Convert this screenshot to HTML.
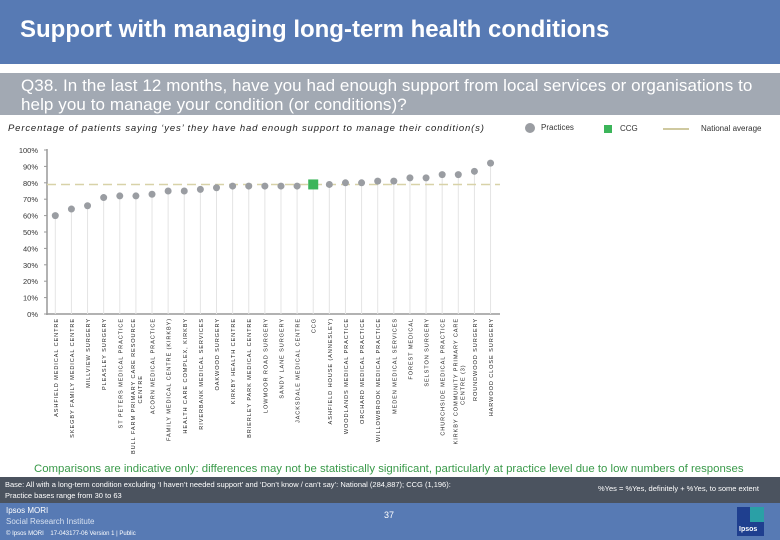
<!DOCTYPE html>
<html><head><meta charset="utf-8"><style>
body{margin:0;width:780px;height:540px;overflow:hidden;background:#fff;font-family:"Liberation Sans",sans-serif;position:relative}
.abs{position:absolute}
</style></head><body>
<div class="abs" style="left:0;top:0;width:780px;height:64px;background:#577ab4"></div>
<div class="abs" style="left:20px;top:16px;color:#fff;font-size:24px;font-weight:bold">Support with managing long-term health conditions</div>
<div class="abs" style="left:0;top:73px;width:780px;height:42px;background:#a2a9b3"></div>
<div class="abs" style="left:21px;top:76px;color:#fff;font-size:17px;line-height:19px;letter-spacing:0.08px;white-space:nowrap">Q38. In the last 12 months, have you had enough support from local services or organisations to<br>help you to manage your condition (or conditions)?</div>
<div class="abs" style="left:8px;top:123px;font-size:9.5px;font-style:italic;color:#222;letter-spacing:0.85px">Percentage of patients saying ‘yes’ they have had enough support to manage their condition(s)</div>
<div class="abs" style="left:525px;top:123px;font-size:8px;color:#333"><span style="display:inline-block;width:10px;height:10px;border-radius:50%;background:#9a9da2;vertical-align:middle;margin-right:6px"></span>Practices</div>
<div class="abs" style="left:604px;top:124px;font-size:8px;color:#333"><span style="display:inline-block;width:8px;height:8px;background:#3cb55a;vertical-align:middle;margin-right:8px"></span>CCG</div>
<div class="abs" style="left:663px;top:124px;font-size:8px;color:#333"><span style="display:inline-block;width:26px;height:2px;background:#cfc9a0;vertical-align:middle;margin-right:12px"></span>National average</div>

<svg class="abs" style="left:0;top:0" width="780" height="470">
<g id="g"></g>
</svg>

<div class="abs" style="left:34px;top:463px;font-size:11.4px;color:#3a9a4a">Comparisons are indicative only: differences may not be statistically significant, particularly at practice level due to low numbers of responses</div>
<div class="abs" style="left:0;top:477px;width:780px;height:26px;background:#4b535f"></div>
<div class="abs" style="left:5px;top:479px;font-size:7.5px;line-height:11px;color:#fff">Base: All with a long-term condition excluding ‘I haven’t needed support’ and ‘Don’t know / can’t say’: National (284,887); CCG (1,196):<br>Practice bases range from 30 to 63</div>
<div class="abs" style="left:598px;top:484px;font-size:7.5px;color:#fff">%Yes = %Yes, definitely + %Yes, to some extent</div>
<div class="abs" style="left:0;top:503px;width:780px;height:37px;background:#577ab4"></div>
<div class="abs" style="left:6px;top:505px;font-size:8px;line-height:11px;color:#fff">Ipsos MORI<br><span style="color:#d6e0f0">Social Research Institute</span><br><span style="font-size:6px">© Ipsos MORI &nbsp;&nbsp; 17-043177-06 Version 1 | Public</span></div>
<div class="abs" style="left:384px;top:510px;font-size:9px;color:#fff">37</div>
<div class="abs" style="left:737px;top:507px;width:27px;height:29px;background:#1f3f8f"><div style="position:absolute;left:13px;top:0;width:14px;height:15px;background:#2aa0a6"></div><div style="position:absolute;left:2px;top:19px;font-size:7px;color:#fff;font-weight:bold">Ipsos</div></div>

<script>
const categories=["ASHFIELD MEDICAL CENTRE","SKEGBY FAMILY MEDICAL CENTRE","MILLVIEW SURGERY","PLEASLEY SURGERY","ST PETERS MEDICAL PRACTICE","BULL FARM PRIMARY CARE RESOURCE|CENTRE","ACORN MEDICAL PRACTICE","FAMILY MEDICAL CENTRE (KIRKBY)","HEALTH CARE COMPLEX, KIRKBY","RIVERBANK MEDICAL SERVICES","OAKWOOD SURGERY","KIRKBY HEALTH CENTRE","BRIERLEY PARK MEDICAL CENTRE","LOWMOOR ROAD SURGERY","SANDY LANE SURGERY","JACKSDALE MEDICAL CENTRE","CCG","ASHFIELD HOUSE (ANNESLEY)","WOODLANDS MEDICAL PRACTICE","ORCHARD MEDICAL PRACTICE","WILLOWBROOK MEDICAL PRACTICE","MEDEN MEDICAL SERVICES","FOREST MEDICAL","SELSTON SURGERY","CHURCHSIDE MEDICAL PRACTICE","KIRKBY COMMUNITY PRIMARY CARE|CENTRE (3)","ROUNDWOOD SURGERY","HARWOOD CLOSE SURGERY"];
const values=[60,64,66,71,72,72,73,75,75,76,77,78,78,78,78,78,79,79,80,80,81,81,83,83,85,85,87,92];
const nationalAverage=79;
const yTicks=[0,10,20,30,40,50,60,70,80,90,100];
const tickLabels=["0%","10%","20%","30%","40%","50%","60%","70%","80%","90%","100%"];
const ccgName="CCG";

const NS="http://www.w3.org/2000/svg";
const g=document.getElementById('g');
const y=v=>314-v*1.64;
const x=i=>55.3+i*16.12;
function mk(t,a){const e=document.createElementNS(NS,t);for(const k in a)e.setAttribute(k,a[k]);g.appendChild(e);return e;}
yTicks.forEach((t,i)=>{
  const tx=mk('text',{x:38,y:y(t)+3,'text-anchor':'end','font-size':7.5,fill:'#333'});
  tx.textContent=tickLabels[i];
  
  
  const tk=mk('line',{x1:44,x2:47,y1:y(t),y2:y(t),stroke:'#999'});
  
  
});
const ya=mk('line',{x1:47,x2:47,y1:149,y2:315,stroke:'#999','stroke-width':1.5});


const xa=mk('line',{x1:46,x2:500,y1:314,y2:314,stroke:'#999','stroke-width':1.5});


values.forEach((v,i)=>{
  const dl=mk('line',{x1:x(i),x2:x(i),y1:y(v),y2:314,stroke:'#e4e4e4','stroke-width':1});
  
  
});
const nl=mk('line',{x1:47,x2:500,y1:y(nationalAverage),y2:y(nationalAverage),stroke:'#d8d2a8','stroke-width':1.5,'stroke-dasharray':'9,5'});


values.forEach((v,i)=>{
  let m;
  if(categories[i]===ccgName){
    m=mk('rect',{x:x(i)-5,y:y(v)-5,width:10,height:10,fill:'#3cb55a'});
    
  } else {
    m=mk('circle',{cx:x(i),cy:y(v),r:3.5,fill:'#9a9da2'});
    
  }
  
  const lines=categories[i].split('|');
  lines.forEach((ln,j)=>{
    const off=lines.length>1?(j===0?-3.5:3.5):0;
    const cx=x(i)+2.5+off;
    const t=mk('text',{x:0,y:0,transform:`translate(${cx},318) rotate(-90)`,'text-anchor':lines.length>1&&j===1?'middle':'end','font-size':5.6,'letter-spacing':0.9,fill:'#222'});
    if(lines.length>1&&j===1){t.setAttribute('transform',`translate(${cx},${318+ (lines[0].length*4.6)/2}) rotate(-90)`);}
    t.textContent=ln;
    
    
  });
});
</script>
</body></html>
